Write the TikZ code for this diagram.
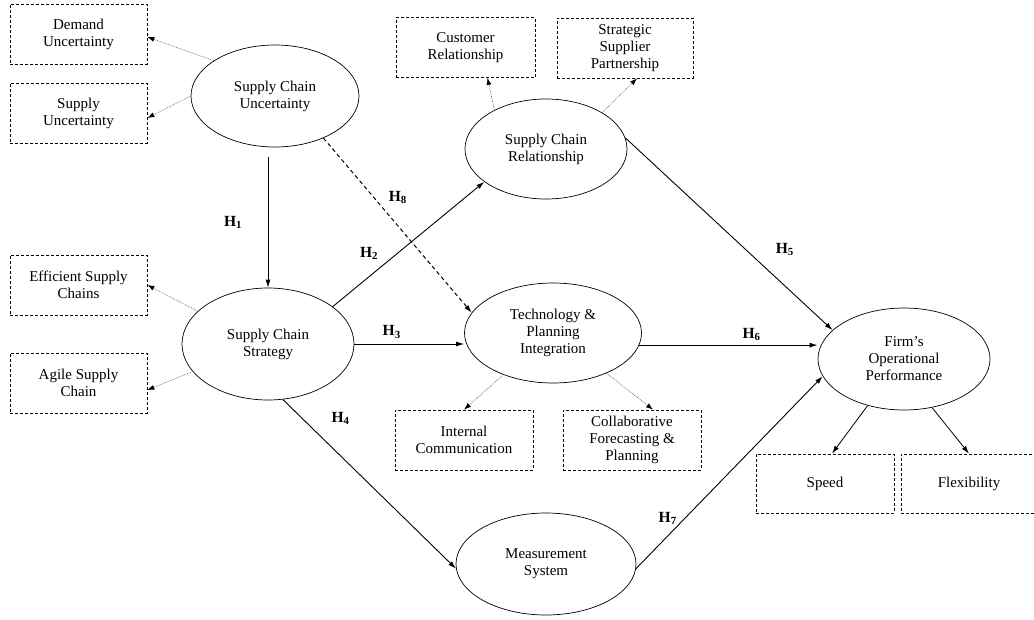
\documentclass[tikz,border=0pt]{standalone}
\usepackage{fontspec}
\setmainfont{Liberation Serif}
\usetikzlibrary{shapes.geometric, arrows.meta}

\begin{document}
\begin{tikzpicture}[
    x=1pt, y=-1pt,
    every node/.style={align=center, font=\fontsize{15}{17}\selectfont},
    latent/.style={ellipse, draw, line width=0.7pt, inner sep=0pt},
    dimbox/.style={rectangle, draw, dash pattern=on 3pt off 2pt, line width=0.7pt, minimum width=137pt, minimum height=60pt},
    arrow/.style={-{Latex[length=8pt, width=5pt]}, line width=0.9pt},
    hyp/.style={-{Latex[length=8pt, width=5pt]}, dash pattern=on 4pt off 3pt, line width=1pt},
    load/.style={-{Latex[length=7pt, width=5pt, color=black]}, densely dotted, line width=0.7pt, draw=black!60},
    hlab/.style={font=\fontsize{15.5}{17}\selectfont\bfseries}
]
\useasboundingbox (0,0) rectangle (1034,619);

\node[latent, minimum width=168pt, minimum height=102pt] (scu) at (275,96) {Supply Chain\\Uncertainty};
\node[latent, minimum width=172pt, minimum height=112pt] (scs) at (268,344) {Supply Chain\\Strategy};
\node[latent, minimum width=162pt, minimum height=100pt] (scr) at (546,149) {Supply Chain\\Relationship};
\node[latent, minimum width=177pt, minimum height=100pt] (tpi) at (553,333) {Technology \&\\Planning\\Integration};
\node[latent, minimum width=180pt, minimum height=102pt] (ms) at (546,564) {Measurement\\System};
\node[latent, minimum width=172pt, minimum height=102pt] (fop) at (904,359) {Firm's\\Operational\\Performance};

\node[dimbox] (dem) at (78.5,34) {Demand\\Uncertainty};
\node[dimbox] (sup) at (78.5,113) {Supply\\Uncertainty};
\node[dimbox] (eff) at (78.5,285) {Efficient Supply\\Chains};
\node[dimbox] (agi) at (78.5,383) {Agile Supply\\Chain};
\node[dimbox, minimum width=139pt] (cus) at (465.5,47.5) {Customer\\Relationship};
\node[dimbox, minimum width=136pt] (ssp) at (625,48) {Strategic\\Supplier\\Partnership};
\node[dimbox, minimum width=138pt] (int) at (464,440) {Internal\\Communication};
\node[dimbox, minimum width=138pt] (col) at (632,440) {Collaborative\\Forecasting \&\\Planning};
\node[dimbox, minimum width=138pt, minimum height=59pt] (spd) at (825,483.5) {Speed};
\node[dimbox, minimum width=136pt, minimum height=59pt] (flx) at (969,483.5) {Flexibility};

\coordinate (h1top) at ([yshift=-10pt]scu.south);

\draw[arrow] (h1top -| scs.north) -- node[hlab, midway, xshift=-35pt] {H\textsubscript{1}} (scs.north);
\draw[arrow] (scs.30) -- node[hlab, pos=0.24, yshift=23pt] {H\textsubscript{2}} (scr.208);
\draw[arrow] (scs.east) -- node[hlab, pos=0.34, yshift=12pt] {H\textsubscript{3}} (scs.east -| tpi.west);
\draw[arrow] (scs.-75) -- node[hlab, pos=0.2, xshift=23pt, yshift=15pt] {H\textsubscript{4}} (ms.183);
\draw[arrow] (scr.8) -- node[hlab, pos=0.75, xshift=4pt, yshift=33pt] {H\textsubscript{5}} (fop.158);
\draw[arrow] (tpi.-8) -- node[hlab, pos=0.63, yshift=11pt] {H\textsubscript{6}} (tpi.-8 -| fop.west);
\draw[arrow] (ms.-3) -- node[hlab, pos=0.17, yshift=18pt] {H\textsubscript{7}} (fop.192);
\draw[hyp] (scu.-41) -- node[hlab, pos=0.34, xshift=24pt] {H\textsubscript{8}} (tpi.166);

\draw[load] (scu.150) -- ([yshift=-3pt]dem.east);
\draw[load] (scu.west) -- ([yshift=-5pt]sup.east);
\draw[load] (scs.155) -- (eff.east);
\draw[load] (scs.200) -- ([yshift=-7pt]agi.east);
\draw[load] (scr.143) -- ([xshift=22pt]cus.south);
\draw[load] (scr.33) -- ([xshift=12pt]ssp.south);
\draw[load] (tpi.220) -- (int.north);
\draw[load] (tpi.-37) -- ([xshift=21pt]col.north);
\draw[arrow, line width=0.8pt] (fop.232) -- ([xshift=7pt]spd.north);
\draw[arrow, line width=0.8pt] (fop.-60) -- (flx.north);

\end{tikzpicture}
\end{document}
